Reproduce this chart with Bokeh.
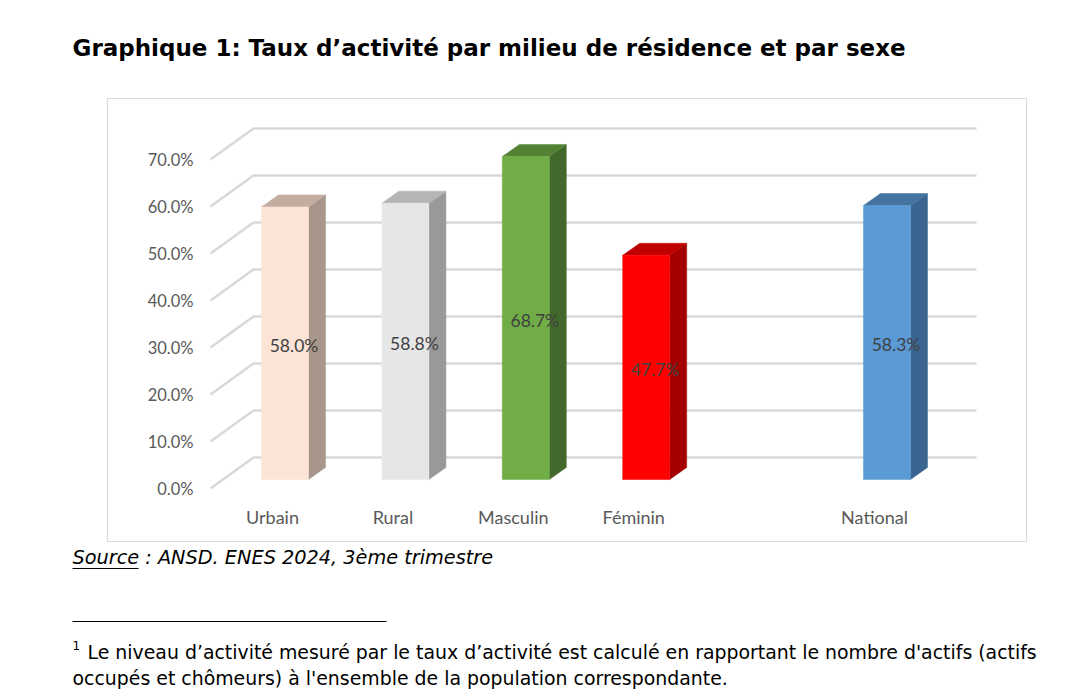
import numpy as np
from bokeh.plotting import figure
from bokeh.models import Range1d
from bokeh.core.properties import value
from bokeh.embed import file_html
from bokeh.resources import INLINE

# ---------------- data ----------------
categories = ["Urbain", "Rural", "Masculin", "Féminin", "", "National"]
rates = [58.0, 58.8, 68.7, 47.7, None, 58.3]
y_ticks = [0, 10, 20, 30, 40, 50, 60, 70]
y_tick_labels = ["0.0%", "10.0%", "20.0%", "30.0%", "40.0%", "50.0%", "60.0%", "70.0%"]

title_text = "Graphique 1: Taux d\u2019activité par milieu de résidence et par sexe"
source_text = "Source : ANSD. ENES 2024, 3ème trimestre"
note_mark = "1"
note_line1 = "Le niveau d\u2019activité mesuré par le taux d\u2019activité est calculé en rapportant le nombre d'actifs (actifs"
note_line2 = "occupés et chômeurs) à l'ensemble de la population correspondante."

# ---------------- styles ----------------
front_colors = ["#fce4d6", "#e7e6e6", "#70ad47", "#ff0000", None, "#5b9bd5"]
top_colors = ["#c3ada1", "#b5b5b5", "#548235", "#c00000", None, "#44739f"]
side_colors = ["#a8968b", "#999999", "#43682b", "#a50000", None, "#3a6591"]
grid_color = "#d9d9d9"
axis_text_color = "#595959"
label_text_color = "#404040"

W, H, M = 1070, 695, 0
# layout (page pixels)
CAT0_PX, CAT_STEP_PX = 272.0, 120.4      # front-plane x of first category, spacing
ZERO_PX, PX_PER_PCT = 488.0, 4.7         # front-plane y of 0 %, pixels per percent
DEPTH_DX, DEPTH_DY = 43.0, 31.0          # floor depth offset
BAR_OFF_PX, BAR_W_PX = 12.5, 47.0        # bar front plane shift, bar width
BAR_BASE_PX = 9.0                        # bar front plane rise
BAR_DX, BAR_DY = 17.0, 12.0              # bar depth offset
GRID_LEFT_PX, GRID_RIGHT_PX = 210.0, 976.0

p = figure(width=W, height=H, output_backend="svg", toolbar_location=None,
           x_range=Range1d(M, W + M), y_range=Range1d(H + M, M),
           x_axis_type=None, y_axis_type=None, min_border=0,
           outline_line_color=None, background_fill_color="white")
p.grid.visible = False

p.extra_x_ranges = {"cat": Range1d((M - CAT0_PX) / CAT_STEP_PX, (W + M - CAT0_PX) / CAT_STEP_PX)}
p.extra_y_ranges = {"pct": Range1d((ZERO_PX - (H + M)) / PX_PER_PCT, (ZERO_PX - M) / PX_PER_PCT)}

cx = lambda px: px / CAT_STEP_PX
cy = lambda px: px / PX_PER_PCT

# chart border
p.quad(left=107, right=1026, top=98, bottom=541, fill_color=None,
       line_color="#d9d9d9", line_width=1.2)

# gridlines (3D)
fl = (GRID_LEFT_PX - CAT0_PX) / CAT_STEP_PX
bl = fl + cx(DEPTH_DX)
br = (GRID_RIGHT_PX - CAT0_PX) / CAT_STEP_PX
d = cy(DEPTH_DY)
p.multi_line(xs=[[fl, bl, br] for _ in y_ticks],
             ys=[[t, t + d, t + d] for t in y_ticks],
             line_color=grid_color, line_width=2.6,
             x_range_name="cat", y_range_name="pct")

# y tick labels
p.text(x=[fl - cx(17)] * len(y_ticks), y=y_ticks, text=y_tick_labels,
       text_font=value("Lato"), text_font_size="16.5px", text_color=axis_text_color,
       text_align="right", text_baseline="middle",
       x_range_name="cat", y_range_name="pct")

# bars
off, bw = cx(BAR_OFF_PX), cx(BAR_W_PX)
base = cy(BAR_BASE_PX)
ddx, ddy = cx(BAR_DX), cy(BAR_DY)
for i, v in enumerate(rates):
    if v is None:
        continue
    L = i + off - bw / 2
    R = i + off + bw / 2
    b, t = base, base + v
    p.patch([R, R + ddx, R + ddx, R], [b, b + ddy, t + ddy, t],
            fill_color=side_colors[i], line_color=side_colors[i], line_width=0.5,
            x_range_name="cat", y_range_name="pct")
    p.patch([L, R, R + ddx, L + ddx], [t, t, t + ddy, t + ddy],
            fill_color=top_colors[i], line_color=top_colors[i], line_width=0.5,
            x_range_name="cat", y_range_name="pct")
    p.quad(left=L, right=R, bottom=b, top=t,
           fill_color=front_colors[i], line_color=front_colors[i], line_width=0.5,
           x_range_name="cat", y_range_name="pct")

# data labels
idx = [i for i, v in enumerate(rates) if v is not None]
p.text(x=[i + off + cx(9) for i in idx],
       y=[cy(7) + rates[i] / 2 for i in idx],
       text=[f"{rates[i]:.1f}%" for i in idx],
       text_font=value("Lato"), text_font_size="17.5px", text_color=label_text_color,
       text_align="center", text_baseline="middle",
       x_range_name="cat", y_range_name="pct")

# category labels
p.text(x=idx, y=[516] * len(idx), text=[categories[i] for i in idx],
       text_font=value("Lato"), text_font_size="18px", text_color=axis_text_color,
       text_align="center", text_baseline="middle",
       x_range_name="cat")

# title
p.text(x=[72], y=[47], text=[title_text], text_font=value("DejaVu Sans"),
       text_font_style="bold", text_font_size="23px", text_color="black",
       text_align="left", text_baseline="middle")

# source
p.text(x=[72], y=[557], text=[source_text], text_font=value("DejaVu Sans"),
       text_font_style="italic", text_font_size="19.3px", text_color="black",
       text_align="left", text_baseline="middle")
p.segment(x0=[72], y0=[568], x1=[138], y1=[568], line_color="black", line_width=1)

# footnote rule
p.segment(x0=[72], y0=[621], x1=[386], y1=[621], line_color="black", line_width=1.2)

# footnote
p.text(x=[72], y=[645], text=[note_mark], text_font=value("DejaVu Sans"),
       text_font_size="12px", text_color="black", text_align="left", text_baseline="middle")
p.text(x=[87, 72], y=[651, 677], text=[note_line1, note_line2],
       text_font=value("DejaVu Sans"), text_font_size="18.9px", text_color="black",
       text_align="left", text_baseline="middle")

open("out.html", "w").write(file_html(p, INLINE))
